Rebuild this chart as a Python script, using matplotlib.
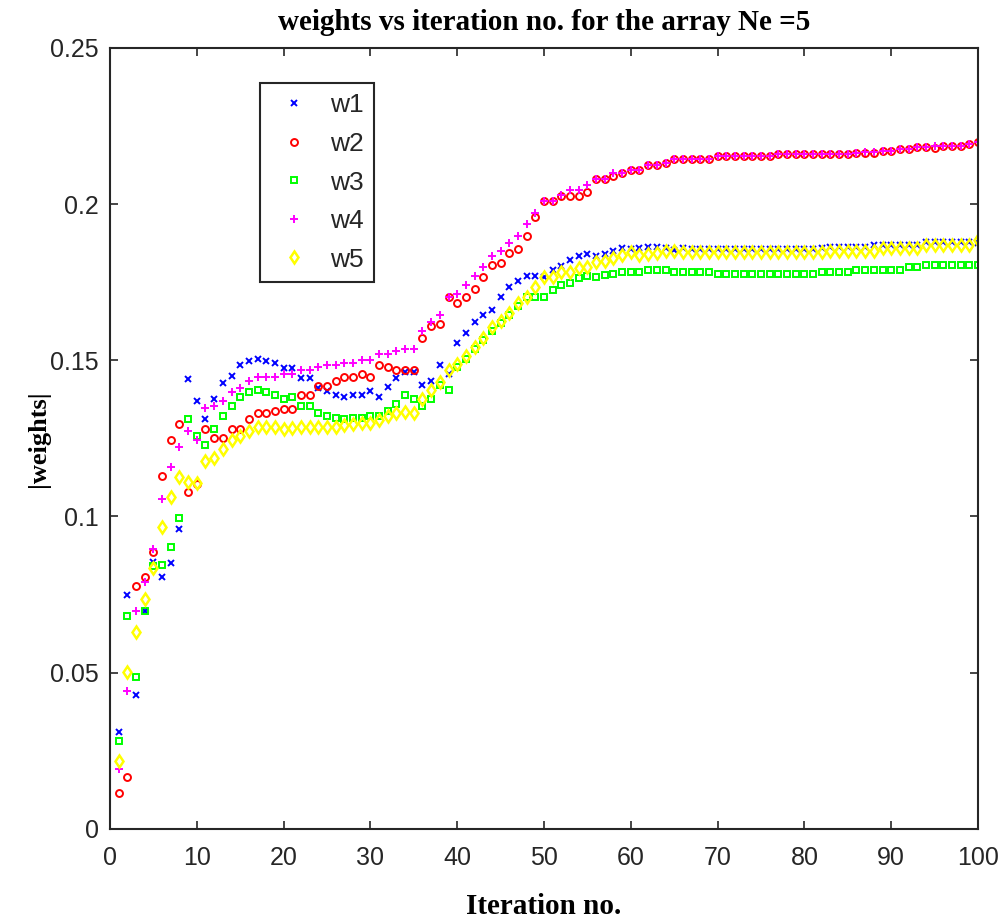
import matplotlib
matplotlib.use("Agg")
import matplotlib.pyplot as plt
import numpy as np

iterations = list(range(1, 101))

w1 = [0.0311, 0.0749, 0.0428, 0.0697, 0.0855, 0.0807, 0.0850, 0.0960, 0.1440, 0.1369,
      0.1311, 0.1375, 0.1428, 0.1449, 0.1484, 0.1498, 0.1505, 0.1498, 0.1490, 0.1476,
      0.1476, 0.1442, 0.1442, 0.1410, 0.1402, 0.1388, 0.1383, 0.1388, 0.1388, 0.1402,
      0.1383, 0.1413, 0.1442, 0.1463, 0.1463, 0.1420, 0.1434, 0.1484, 0.1456, 0.1554,
      0.1586, 0.1623, 0.1644, 0.1660, 0.1703, 0.1733, 0.1754, 0.1769, 0.1769, 0.1765,
      0.1790, 0.1801, 0.1820, 0.1833, 0.1839, 0.1833, 0.1839, 0.1850, 0.1858, 0.1855,
      0.1858, 0.1861, 0.1861, 0.1858, 0.1852, 0.1858, 0.1856, 0.1856, 0.1856, 0.1855,
      0.1855, 0.1855, 0.1855, 0.1855, 0.1855, 0.1855, 0.1856, 0.1856, 0.1856, 0.1856,
      0.1857, 0.1858, 0.1862, 0.1862, 0.1862, 0.1862, 0.1862, 0.1868, 0.1868, 0.1868,
      0.1868, 0.1868, 0.1868, 0.1880, 0.1880, 0.1880, 0.1880, 0.1880, 0.1880, 0.1875]

w2 = [0.0114, 0.0167, 0.0777, 0.0807, 0.0887, 0.1129, 0.1244, 0.1295, 0.1077, 0.1103,
      0.1280, 0.1252, 0.1252, 0.1280, 0.1280, 0.1311, 0.1332, 0.1332, 0.1338, 0.1345,
      0.1345, 0.1389, 0.1389, 0.1418, 0.1418, 0.1433, 0.1447, 0.1447, 0.1456, 0.1447,
      0.1484, 0.1477, 0.1470, 0.1470, 0.1470, 0.1572, 0.1609, 0.1615, 0.1703, 0.1682,
      0.1703, 0.1727, 0.1767, 0.1804, 0.1812, 0.1842, 0.1855, 0.1899, 0.1959, 0.2009,
      0.2009, 0.2025, 0.2025, 0.2025, 0.2039, 0.2081, 0.2081, 0.2090, 0.2098, 0.2110,
      0.2110, 0.2124, 0.2126, 0.2132, 0.2145, 0.2145, 0.2145, 0.2145, 0.2145, 0.2153,
      0.2153, 0.2153, 0.2153, 0.2153, 0.2153, 0.2153, 0.2160, 0.2160, 0.2160, 0.2160,
      0.2160, 0.2160, 0.2160, 0.2160, 0.2160, 0.2163, 0.2163, 0.2163, 0.2169, 0.2169,
      0.2175, 0.2175, 0.2183, 0.2183, 0.2178, 0.2185, 0.2185, 0.2185, 0.2193, 0.2197]

w3 = [0.0283, 0.0682, 0.0485, 0.0697, 0.0840, 0.0844, 0.0901, 0.0996, 0.1311, 0.1258,
      0.1228, 0.1280, 0.1323, 0.1353, 0.1382, 0.1397, 0.1404, 0.1397, 0.1388, 0.1375,
      0.1383, 0.1354, 0.1354, 0.1330, 0.1322, 0.1316, 0.1311, 0.1316, 0.1316, 0.1322,
      0.1322, 0.1338, 0.1360, 0.1388, 0.1376, 0.1354, 0.1375, 0.1420, 0.1404, 0.1477,
      0.1505, 0.1535, 0.1565, 0.1594, 0.1620, 0.1645, 0.1675, 0.1703, 0.1703, 0.1703,
      0.1724, 0.1740, 0.1748, 0.1762, 0.1769, 0.1767, 0.1772, 0.1776, 0.1783, 0.1783,
      0.1783, 0.1790, 0.1790, 0.1790, 0.1783, 0.1783, 0.1783, 0.1783, 0.1783, 0.1775,
      0.1775, 0.1775, 0.1775, 0.1775, 0.1775, 0.1775, 0.1775, 0.1775, 0.1775, 0.1775,
      0.1775, 0.1783, 0.1783, 0.1783, 0.1783, 0.1790, 0.1790, 0.1790, 0.1790, 0.1790,
      0.1790, 0.1799, 0.1799, 0.1804, 0.1804, 0.1804, 0.1804, 0.1804, 0.1804, 0.1804]

w4 = [0.0193, 0.0442, 0.0697, 0.0791, 0.0896, 0.1055, 0.1158, 0.1222, 0.1274, 0.1244,
      0.1346, 0.1353, 0.1369, 0.1397, 0.1412, 0.1433, 0.1447, 0.1447, 0.1447, 0.1455,
      0.1456, 0.1470, 0.1470, 0.1479, 0.1484, 0.1484, 0.1490, 0.1490, 0.1500, 0.1500,
      0.1520, 0.1520, 0.1529, 0.1535, 0.1535, 0.1594, 0.1623, 0.1644, 0.1703, 0.1711,
      0.1740, 0.1769, 0.1797, 0.1833, 0.1849, 0.1876, 0.1899, 0.1935, 0.1972, 0.2009,
      0.2009, 0.2030, 0.2046, 0.2046, 0.2060, 0.2081, 0.2081, 0.2100, 0.2098, 0.2110,
      0.2110, 0.2124, 0.2126, 0.2132, 0.2145, 0.2145, 0.2145, 0.2145, 0.2145, 0.2153,
      0.2153, 0.2153, 0.2153, 0.2153, 0.2153, 0.2153, 0.2160, 0.2160, 0.2160, 0.2160,
      0.2160, 0.2160, 0.2160, 0.2160, 0.2160, 0.2163, 0.2165, 0.2165, 0.2169, 0.2169,
      0.2175, 0.2175, 0.2183, 0.2183, 0.2185, 0.2185, 0.2185, 0.2187, 0.2193, 0.2197]

w5 = [0.0217, 0.0501, 0.0631, 0.0735, 0.0836, 0.0967, 0.1061, 0.1127, 0.1111, 0.1108,
      0.1178, 0.1186, 0.1215, 0.1244, 0.1257, 0.1273, 0.1287, 0.1287, 0.1287, 0.1280,
      0.1282, 0.1287, 0.1287, 0.1287, 0.1287, 0.1287, 0.1292, 0.1295, 0.1300, 0.1300,
      0.1310, 0.1322, 0.1330, 0.1335, 0.1330, 0.1376, 0.1404, 0.1430, 0.1470, 0.1488,
      0.1514, 0.1543, 0.1572, 0.1607, 0.1626, 0.1650, 0.1682, 0.1703, 0.1733, 0.1765,
      0.1768, 0.1783, 0.1783, 0.1794, 0.1798, 0.1815, 0.1818, 0.1826, 0.1836, 0.1848,
      0.1836, 0.1839, 0.1843, 0.1850, 0.1850, 0.1845, 0.1848, 0.1848, 0.1848, 0.1848,
      0.1848, 0.1848, 0.1848, 0.1848, 0.1848, 0.1848, 0.1848, 0.1848, 0.1848, 0.1848,
      0.1848, 0.1848, 0.1850, 0.1850, 0.1850, 0.1850, 0.1850, 0.1850, 0.1858, 0.1858,
      0.1858, 0.1858, 0.1858, 0.1868, 0.1868, 0.1868, 0.1868, 0.1868, 0.1868, 0.1886]

series_labels = ["w1", "w2", "w3", "w4", "w5"]
title_text = "weights vs iteration no. for the array Ne =5"
xlabel_text = "Iteration no."
ylabel_text = "|weights|"

sans = ["Liberation Sans Narrow", "Liberation Sans", "DejaVu Sans"]
serif = ["Liberation Serif", "DejaVu Serif"]

fig = plt.figure(figsize=(10.0, 9.19), dpi=100)
ax = fig.add_axes([0.110, 0.098, 0.868, 0.850])

styles = [
    dict(marker="x", color=(0, 0, 1), mfc="none", ms=5, mew=1.4),
    dict(marker="o", color=(1, 0, 0), mfc="none", ms=5, mew=1.4),
    dict(marker="s", color=(0, 1, 0), mfc="none", ms=4.5, mew=1.4),
    dict(marker="+", color=(1, 0, 1), mfc="none", ms=6, mew=1.4),
    dict(marker="d", color=(1, 1, 0), mfc="none", ms=6, mew=1.8),
]
for data, lab, st in zip([w1, w2, w3, w4, w5], series_labels, styles):
    ax.plot(iterations, data, linestyle="none", label=lab, **st)

ax.set_xlim(0, 100)
ax.set_ylim(0, 0.25)
ax.set_xticks(np.arange(0, 101, 10))
ax.set_yticks([0, 0.05, 0.1, 0.15, 0.2, 0.25])
ax.set_yticklabels(["0", "0.05", "0.1", "0.15", "0.2", "0.25"])
ax.tick_params(direction="in", top=True, right=True, length=6, width=1.2,
               color="#262626", labelcolor="#262626", labelsize=18)
ax.tick_params(axis="x", pad=12)
ax.tick_params(axis="y", pad=8)
for lbl in ax.get_xticklabels() + ax.get_yticklabels():
    lbl.set_family(sans)
for sp in ax.spines.values():
    sp.set_color("#262626")
    sp.set_linewidth(1.5)

ax.set_title(title_text, fontsize=21, fontweight="bold", family=serif, pad=13)
ax.set_xlabel(xlabel_text, fontsize=21, fontweight="bold", family=serif, labelpad=17)
ax.set_ylabel(ylabel_text, fontsize=19, fontweight="bold", family=serif, labelpad=0)

leg = ax.legend(loc="upper left", bbox_to_anchor=(0.173, 0.955), frameon=True,
                fancybox=False, edgecolor="#262626", framealpha=1,
                prop={"family": sans, "size": 19}, handlelength=1.8,
                handletextpad=0.45, labelspacing=0.55, borderpad=0.4,
                borderaxespad=0, markerscale=1.0)
leg.get_frame().set_linewidth(1.5)
for t in leg.get_texts():
    t.set_color("#262626")

fig.savefig("out.png", dpi=100)
